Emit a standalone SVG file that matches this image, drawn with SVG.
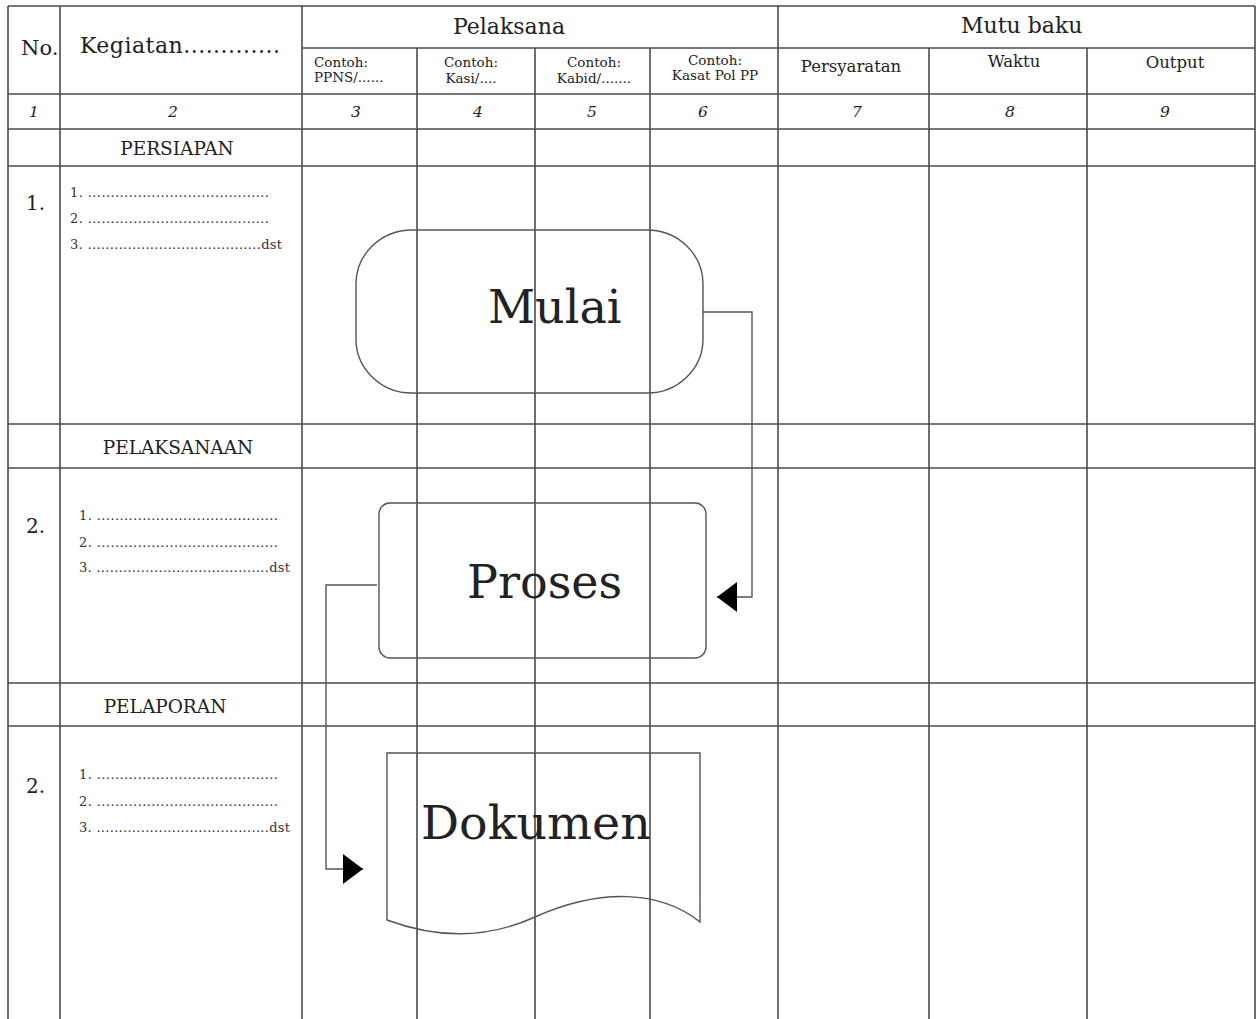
<svg xmlns="http://www.w3.org/2000/svg" width="1258" height="1019" viewBox="0 0 1258 1019">
<style>
  .grid line { stroke:#4a4a4a; stroke-width:1.6; }
  .shape { fill:none; stroke:#555; stroke-width:1.4; }
  .conn { fill:none; stroke:#555; stroke-width:1.4; }
  text { font-family:"DejaVu Serif","Liberation Serif",serif; fill:#222; }
  .h1 { font-size:21px; }
  .h2 { font-size:13.5px; }
  .h3 { font-size:16.5px; }
  .num { font-size:15.5px; font-style:italic; text-anchor:middle; }
  .sec { font-size:18.5px; text-anchor:middle; }
  .rn { font-size:20px; }
  .li { font-size:13px; fill:#333; }
  .big { font-size:46px; }
  .c { text-anchor:middle; }
</style>
<defs>
  <marker id="arrow" markerUnits="userSpaceOnUse" markerWidth="20" markerHeight="30" refX="20" refY="15" orient="auto">
    <path d="M0,0 L20,15 L0,30 z" fill="#000"/>
  </marker>
</defs>
<rect width="1258" height="1019" fill="#fff"/>
<g id="table" class="grid">
  <line x1="8" y1="6" x2="1255" y2="6"/>
  <line x1="302" y1="48" x2="1255" y2="48"/>
  <line x1="8" y1="94" x2="1255" y2="94"/>
  <line x1="8" y1="129" x2="1255" y2="129"/>
  <line x1="8" y1="166" x2="1255" y2="166"/>
  <line x1="8" y1="424" x2="1255" y2="424"/>
  <line x1="8" y1="468" x2="1255" y2="468"/>
  <line x1="8" y1="683" x2="1255" y2="683"/>
  <line x1="8" y1="726" x2="1255" y2="726"/>
  <line x1="8" y1="6" x2="8" y2="1019"/>
  <line x1="60" y1="6" x2="60" y2="1019"/>
  <line x1="302" y1="6" x2="302" y2="1019"/>
  <line x1="417" y1="48" x2="417" y2="1019"/>
  <line x1="535" y1="48" x2="535" y2="1019"/>
  <line x1="650" y1="48" x2="650" y2="1019"/>
  <line x1="778" y1="6" x2="778" y2="1019"/>
  <line x1="929" y1="48" x2="929" y2="1019"/>
  <line x1="1087" y1="48" x2="1087" y2="1019"/>
  <line x1="1255" y1="6" x2="1255" y2="1019"/>
</g>
<g id="header-text">
  <text class="h1" x="21" y="55">No.</text>
  <text x="80" y="53" style="font-size:22px" textLength="200" lengthAdjust="spacing">Kegiatan.............</text>
  <text class="h1" x="453" y="34" style="font-size:22px">Pelaksana</text>
  <text class="h1" x="961" y="33" style="font-size:22px">Mutu baku</text>
  <text class="h2" x="314" y="67">Contoh:</text>
  <text class="h2" x="314" y="82">PPNS/......</text>
  <text class="h2 c" x="471" y="67">Contoh:</text>
  <text class="h2 c" x="471" y="83">Kasi/....</text>
  <text class="h2 c" x="594" y="67">Contoh:</text>
  <text class="h2 c" x="594" y="83">Kabid/.......</text>
  <text class="h2 c" x="715" y="65">Contoh:</text>
  <text class="h2 c" x="715" y="80">Kasat Pol PP</text>
  <text class="h3 c" x="851" y="72">Persyaratan</text>
  <text class="h3 c" x="1014" y="67">Waktu</text>
  <text class="h3 c" x="1175" y="68">Output</text>
  <text class="num" x="34" y="117">1</text>
  <text class="num" x="173" y="117">2</text>
  <text class="num" x="356" y="117">3</text>
  <text class="num" x="478" y="117">4</text>
  <text class="num" x="592" y="117">5</text>
  <text class="num" x="703" y="117">6</text>
  <text class="num" x="857" y="117">7</text>
  <text class="num" x="1010" y="117">8</text>
  <text class="num" x="1165" y="117">9</text>
</g>
<g id="row-persiapan">
  <text class="sec" x="177" y="155">PERSIAPAN</text>
  <text class="rn" x="26" y="210">1.</text>
  <text class="li" x="70" y="197" textLength="199" lengthAdjust="spacing">1. ........................................</text>
  <text class="li" x="70" y="223" textLength="199" lengthAdjust="spacing">2. ........................................</text>
  <text class="li" x="70" y="249" textLength="212" lengthAdjust="spacing">3. .......................................dst</text>
</g>
<g id="row-pelaksanaan">
  <text class="sec" x="178" y="454">PELAKSANAAN</text>
  <text class="rn" x="26" y="533">2.</text>
  <text class="li" x="79" y="520" textLength="199" lengthAdjust="spacing">1. ........................................</text>
  <text class="li" x="79" y="547" textLength="199" lengthAdjust="spacing">2. ........................................</text>
  <text class="li" x="79" y="572" textLength="211" lengthAdjust="spacing">3. .......................................dst</text>
</g>
<g id="row-pelaporan">
  <text class="sec" x="165" y="713">PELAPORAN</text>
  <text class="rn" x="26" y="793">2.</text>
  <text class="li" x="79" y="779" textLength="199" lengthAdjust="spacing">1. ........................................</text>
  <text class="li" x="79" y="806" textLength="199" lengthAdjust="spacing">2. ........................................</text>
  <text class="li" x="79" y="832" textLength="211" lengthAdjust="spacing">3. .......................................dst</text>
</g>
<g id="node-mulai">
  <rect class="shape" x="356" y="230" width="347" height="163" rx="56" ry="54"/>
  <text class="big" x="488" y="323">Mulai</text>
</g>
<g id="node-proses">
  <rect class="shape" x="379" y="503" width="327" height="155" rx="11" ry="11"/>
  <text class="big" x="467" y="598">Proses</text>
</g>
<g id="node-dokumen">
  <path class="shape" d="M387,920 L387,753 L700,753 L700,922 C660,890 600,888 535,917 C480,942 430,936 387,920 Z"/>
  <text class="big" x="421" y="839" style="font-size:47.5px">Dokumen</text>
</g>
<g id="connectors">
  <path class="conn" d="M703,312 H752 V597 H717" marker-end="url(#arrow)"/>
  <path class="conn" d="M377,585 H326 V869 H363" marker-end="url(#arrow)"/>
</g>
</svg>
